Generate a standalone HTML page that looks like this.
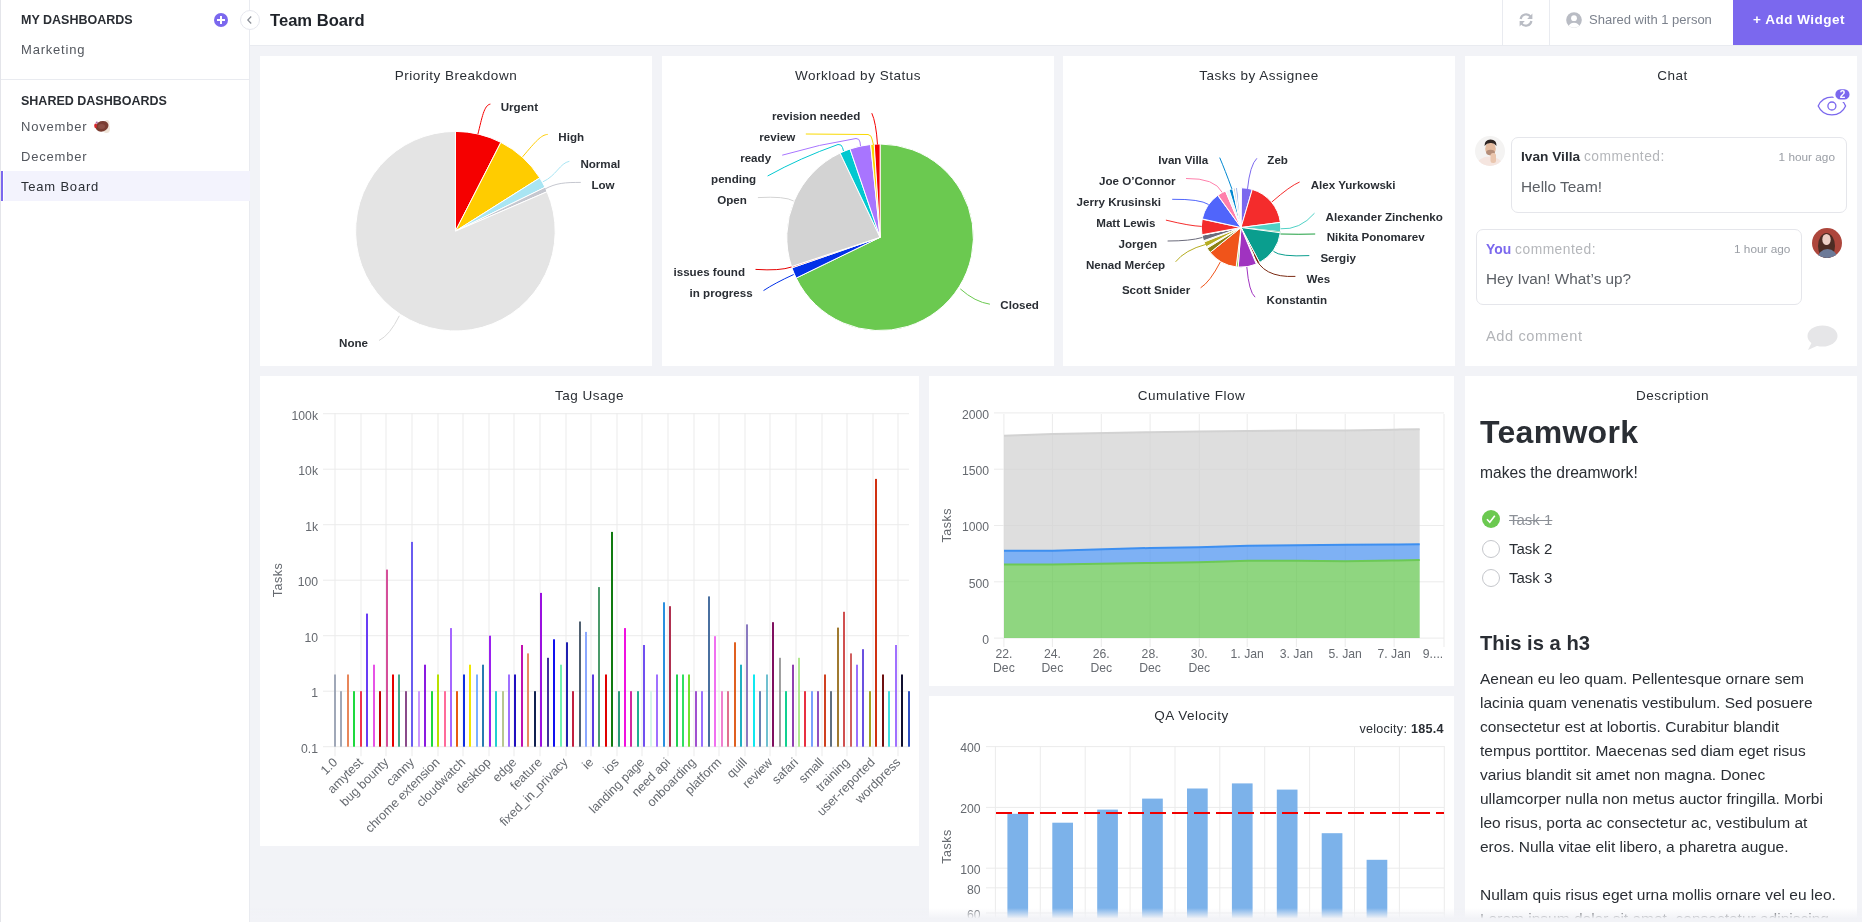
<!DOCTYPE html>
<html><head><meta charset="utf-8">
<style>
*{box-sizing:border-box;margin:0;padding:0}
html,body{width:1862px;height:922px;overflow:hidden}
body{background:#f2f3f7;font-family:"Liberation Sans",sans-serif;color:#2a2e34;position:relative}
.a{position:absolute;white-space:nowrap}
#side{position:absolute;left:0;top:0;width:250px;height:922px;background:#fff;border-left:1px solid #e4e5ea;border-right:1px solid #e9ebf0}
#hdr{position:absolute;left:250px;top:0;width:1612px;height:46px;background:#fff;border-bottom:1px solid #e9ebf0}
.card{position:absolute;background:#fff}
.ttl{position:absolute;left:0;right:0;text-align:center;font-size:13.5px;color:#2a2e34;letter-spacing:0.5px}
.sh{font-size:12.5px;font-weight:bold;color:#2a2e34;letter-spacing:0px}
.si{font-size:13px;color:#53575e;letter-spacing:0.8px}
svg text{font-family:"Liberation Sans",sans-serif}
</style></head>
<body>
<div id="wrap" style="position:absolute;left:0;top:0;width:1862px;height:922px;will-change:transform">
<!-- SIDEBAR -->
<div id="side">
  <div class="a sh" style="left:20px;top:13px">MY DASHBOARDS</div>
  <div class="a" style="left:213px;top:13px;width:14px;height:14px;border-radius:50%;background:#7b68ee"></div>
  <div class="a" style="left:216px;top:19px;width:8px;height:2px;background:#fff"></div>
  <div class="a" style="left:219px;top:16px;width:2px;height:8px;background:#fff"></div>
  <div class="a si" style="left:20px;top:42px">Marketing</div>
  <div class="a" style="left:0;top:79px;width:249px;height:1px;background:#e9ebf0"></div>
  <div class="a sh" style="left:20px;top:94px">SHARED DASHBOARDS</div>
  <div class="a si" style="left:20px;top:119px">November</div>
  <svg class="a" style="left:92px;top:118px" width="18" height="16" viewBox="0 0 18 16">
    <ellipse cx="13.5" cy="10.5" rx="3.5" ry="4.5" fill="#efe4d8"/>
    <ellipse cx="14" cy="5.5" rx="2.5" ry="3.5" fill="#efe4d8"/>
    <ellipse cx="9" cy="8.3" rx="6.6" ry="5.2" fill="#7a3c30" transform="rotate(-18 9 8.3)"/>
    <ellipse cx="8.5" cy="8.5" rx="3.5" ry="2.5" fill="#93554a" opacity="0.7"/>
    <ellipse cx="2.6" cy="7.8" rx="1.4" ry="2.4" fill="#d9262a"/>
    <circle cx="3.8" cy="4.6" r="1.1" fill="#b070a8"/>
  </svg>
  <div class="a si" style="left:20px;top:149px">December</div>
  <div class="a" style="left:3px;top:171px;width:246px;height:30px;background:#f3f3fd"></div>
  <div class="a" style="left:0px;top:171px;width:2px;height:30px;background:#7b68ee"></div>
  <div class="a si" style="left:20px;top:179px;color:#2a2e34">Team Board</div>
</div>
<!-- HEADER -->
<div id="hdr">
  <div class="a" style="left:20px;top:11px;font-size:16.6px;font-weight:bold;color:#1f2329">Team Board</div>
  <div class="a" style="left:1252px;top:0;width:1px;height:45px;background:#e9ebf0"></div>
  <div class="a" style="left:1299px;top:0;width:1px;height:45px;background:#e9ebf0"></div>
  <svg class="a" style="left:1315.8px;top:12px" width="16" height="16" viewBox="0 0 16 16"><defs><clipPath id="cpu"><circle cx="8" cy="8" r="7.8"/></clipPath></defs><circle cx="8" cy="8" r="7.8" fill="#b9bcc4"/><g clip-path="url(#cpu)"><circle cx="8" cy="6.2" r="2.9" fill="#fff"/><ellipse cx="8" cy="14.6" rx="5.4" ry="3.8" fill="#fff"/></g></svg>
  <svg class="a" style="left:1268px;top:12px" width="16" height="16" viewBox="0 0 16 16"><g fill="none" stroke="#b9bcc4" stroke-width="2.2"><path d="M2.6,7 A5.6,5.6 0 0 1 12.6,4.6"/><path d="M13.4,9 A5.6,5.6 0 0 1 3.4,11.4"/></g><path d="M14.4,1.6 L14.4,7 L9.2,7 Z" fill="#b9bcc4"/><path d="M1.6,14.4 L1.6,9 L6.8,9 Z" fill="#b9bcc4"/></svg>
  <div class="a" style="left:1339px;top:12px;font-size:13px;color:#7c828d">Shared with 1 person</div>
  <div class="a" style="left:1483px;top:0;width:129px;height:45px;background:#7b68ee"></div>
  <div class="a" style="left:1503px;top:12px;font-size:13.5px;font-weight:bold;color:#fff;letter-spacing:0.5px">+ Add Widget</div>
</div>
<!-- collapse btn -->
<div class="a" style="left:240px;top:10px;width:20px;height:20px;border-radius:50%;background:#fff;border:1px solid #e6e7ee"></div>
<svg class="a" style="left:240px;top:10px" width="20" height="20" viewBox="0 0 20 20"><path d="M11.2,6.5 L7.8,10 L11.2,13.5" fill="none" stroke="#8a8e96" stroke-width="1.2"/></svg>

<!-- ROW 1 CARDS -->
<div class="card" id="c1" style="left:260px;top:56px;width:392px;height:310px"><div class="ttl" style="top:12px">Priority Breakdown</div></div>
<div class="card" id="c2" style="left:662px;top:56px;width:392px;height:310px"><div class="ttl" style="top:12px">Workload by Status</div></div>
<div class="card" id="c3" style="left:1063px;top:56px;width:392px;height:310px"><div class="ttl" style="top:12px">Tasks by Assignee</div></div>
<div class="card" id="c4" style="left:1465px;top:56px;width:392px;height:310px"><div class="ttl" style="top:12px;padding-left:23px">Chat</div>
  <!-- eye icon -->
  <svg class="a" style="left:346px;top:28px" width="44" height="36" viewBox="0 0 44 36">
    <path d="M7.2,22 A15,15 0 0 1 34.6,22 A15,15 0 0 1 7.2,22 Z" fill="none" stroke="#7b68ee" stroke-width="1.3"/>
    <circle cx="20.9" cy="22" r="4" fill="none" stroke="#7b68ee" stroke-width="1.3"/>
    <rect x="23.1" y="4" width="16.7" height="12.8" rx="6.4" fill="#7b68ee" stroke="#fff" stroke-width="2.5"/>
    <text x="31.5" y="14.2" font-size="10" font-weight="bold" fill="#fff" text-anchor="middle">2</text>
  </svg>
  <!-- comment 1 -->
  <svg class="a" style="left:9.8px;top:80px" width="30" height="30" viewBox="0 0 30 30"><defs><clipPath id="cp1"><circle cx="15" cy="15" r="15"/></clipPath></defs>
    <g clip-path="url(#cp1)"><rect width="30" height="30" fill="#f4f3f2"/>
    <ellipse cx="14.5" cy="29" rx="12.5" ry="8.5" fill="#f5e5df"/>
    <ellipse cx="15.5" cy="12.8" rx="5.3" ry="6.6" fill="#e4bb9f"/>
    <ellipse cx="15.5" cy="16.5" rx="4.4" ry="2.8" fill="#8e6a5a" opacity="0.55"/>
    <rect x="15.5" y="17" width="5.5" height="10" rx="2.5" fill="#eac6ae"/>
    <path d="M9.5,10 Q9.5,3.5 15.5,3.5 Q21.8,3.5 21.5,10 Q19,6.5 15.5,7 Q12,6.8 9.5,10 Z" fill="#2e2522"/></g></svg>
  <div class="a" style="left:46px;top:80.5px;width:336px;height:76px;border:1px solid #e5e6eb;border-radius:7px"></div>
  <div class="a" style="left:56px;top:93px;font-size:13.7px;font-weight:bold;color:#2a2e34">Ivan Villa <span style="font-weight:normal;color:#b4b6ba;font-size:13.8px;letter-spacing:0.5px">commented:</span></div>
  <div class="a" style="right:22px;top:94px;font-size:11.8px;color:#9a9ea5">1 hour ago</div>
  <div class="a" style="left:56px;top:122px;font-size:15.4px;color:#5c6066">Hello Team!</div>
  <!-- comment 2 -->
  <div class="a" style="left:10.5px;top:172.5px;width:326px;height:76px;border:1px solid #e5e6eb;border-radius:7px"></div>
  <div class="a" style="left:21px;top:185px;font-size:13.9px;font-weight:bold;color:#7b68ee">You <span style="font-weight:normal;color:#b4b6ba;font-size:13.8px;letter-spacing:0.5px">commented:</span></div>
  <div class="a" style="left:269px;top:186px;font-size:11.8px;color:#9a9ea5">1 hour ago</div>
  <div class="a" style="left:21px;top:214px;font-size:15.3px;color:#5c6066">Hey Ivan! What&#8217;s up?</div>
  <svg class="a" style="left:347px;top:172px" width="30" height="30" viewBox="0 0 30 30"><defs><clipPath id="cp2"><circle cx="15" cy="15" r="15"/></clipPath></defs>
    <g clip-path="url(#cp2)"><rect width="30" height="30" fill="#ad463c"/>
    <ellipse cx="14.5" cy="18" rx="8.5" ry="13" fill="#4d2c24"/>
    <ellipse cx="15.5" cy="31" rx="10" ry="10" fill="#6c7a98"/>
    <ellipse cx="14.5" cy="11.5" rx="4.2" ry="5.6" fill="#eccfc6"/></g></svg>
  <!-- add comment -->
  <div class="a" style="left:21px;top:272px;font-size:14.6px;letter-spacing:0.6px;color:#b2b4b8">Add comment</div>
  <svg class="a" style="left:341px;top:267.5px" width="32" height="28" viewBox="0 0 32 28">
    <ellipse cx="16.5" cy="12" rx="15" ry="10.5" fill="#e6e6e8"/>
    <path d="M6,18 L2,26 L13,21 Z" fill="#e6e6e8"/>
  </svg>
</div>

<!-- ROW 2 -->
<div class="card" id="c5" style="left:260px;top:376px;width:659px;height:470px"><div class="ttl" style="top:12px">Tag Usage</div></div>
<div class="card" id="c6" style="left:929px;top:376px;width:525px;height:310px"><div class="ttl" style="top:12px">Cumulative Flow</div></div>
<div class="card" id="c7" style="left:929px;top:696px;width:525px;height:300px"><div class="ttl" style="top:12px">QA Velocity</div></div>
<div class="card" id="c8" style="left:1465px;top:376px;width:392px;height:600px"><div class="ttl" style="top:12px;padding-left:23px">Description</div>
  <div class="a" style="left:15px;top:37.5px;font-size:32px;font-weight:bold;color:#2a2e34;letter-spacing:0.3px">Teamwork</div>
  <div class="a" style="left:15px;top:87.5px;font-size:15.6px;color:#2a2e34">makes the dreamwork!</div>
  <div class="a" style="left:16.5px;top:134px;width:18px;height:18px;border-radius:50%;background:#6bc950"></div>
  <svg class="a" style="left:16.5px;top:134px" width="18" height="18" viewBox="0 0 18 18"><path d="M5,9.3 L7.8,12.2 L12.8,5.8" fill="none" stroke="#fff" stroke-width="1.6"/></svg>
  <div class="a" style="left:44px;top:135px;font-size:15px;color:#8c9097;text-decoration:line-through">Task 1</div>
  <div class="a" style="left:16.5px;top:164px;width:18px;height:18px;border-radius:50%;border:1px solid #c4c6cb"></div>
  <div class="a" style="left:44px;top:164px;font-size:15px;color:#2a2e34">Task 2</div>
  <div class="a" style="left:16.5px;top:193px;width:18px;height:18px;border-radius:50%;border:1px solid #c4c6cb"></div>
  <div class="a" style="left:44px;top:193px;font-size:15px;color:#2a2e34">Task 3</div>
  <div class="a" style="left:15px;top:256px;font-size:20.2px;font-weight:bold;color:#2a2e34">This is a h3</div>
  <div class="a" id="para" style="left:15px;top:291px;font-size:15.5px;line-height:24px;color:#2a2e34">Aenean eu leo quam. Pellentesque ornare sem<br>lacinia quam venenatis vestibulum. Sed posuere<br>consectetur est at lobortis. Curabitur blandit<br>tempus porttitor. Maecenas sed diam eget risus<br>varius blandit sit amet non magna. Donec<br>ullamcorper nulla non metus auctor fringilla. Morbi<br>leo risus, porta ac consectetur ac, vestibulum at<br>eros. Nulla vitae elit libero, a pharetra augue.<br><br>Nullam quis risus eget urna mollis ornare vel eu leo.<br>Lorem ipsum dolor sit amet, consectetur adipiscing</div>
</div>

<svg id="charts" width="1862" height="922" viewBox="0 0 1862 922" style="position:absolute;left:0;top:0">
<path d="M455.40,231.20 L455.40,131.40 A99.8,99.8 0 0 1 500.86,142.36 Z" fill="#f50000" stroke="#fff" stroke-width="1" stroke-linejoin="round"/>
<path d="M455.40,231.20 L500.86,142.36 A99.8,99.8 0 0 1 539.76,177.87 Z" fill="#ffcc00" stroke="#fff" stroke-width="1" stroke-linejoin="round"/>
<path d="M455.40,231.20 L539.76,177.87 A99.8,99.8 0 0 1 545.02,187.29 Z" fill="#a9e5f3" stroke="#fff" stroke-width="1" stroke-linejoin="round"/>
<path d="M455.40,231.20 L545.02,187.29 A99.8,99.8 0 0 1 547.06,191.72 Z" fill="#c5c7cf" stroke="#fff" stroke-width="1" stroke-linejoin="round"/>
<path d="M455.40,231.20 L547.06,191.72 A99.8,99.8 0 1 1 455.40,131.40 Z" fill="#e4e4e4" stroke="#fff" stroke-width="1" stroke-linejoin="round"/>
<path d="M477.9,134.1 C482.0,118.0 484.0,105.0 490.4,104.1" fill="none" stroke="#f50000" stroke-width="1"/>
<text x="500.7" y="110.9" font-size="11.6" font-weight="bold" fill="#2a2e34" text-anchor="start" >Urgent</text>
<path d="M522.6,156.8 C536.0,141.0 541.0,135.0 547.7,134.4" fill="none" stroke="#ffcc00" stroke-width="1"/>
<text x="558.3" y="141.1" font-size="11.6" font-weight="bold" fill="#2a2e34" text-anchor="start" >High</text>
<path d="M542.9,181.8 C556.0,176.0 560.0,163.0 569.4,161.3" fill="none" stroke="#a9e5f3" stroke-width="1"/>
<text x="580.4" y="168.1" font-size="11.6" font-weight="bold" fill="#2a2e34" text-anchor="start" >Normal</text>
<path d="M545.0,189.0 C556.0,183.0 565.0,182.4 580.8,182.4" fill="none" stroke="#c5c7cf" stroke-width="1"/>
<text x="591.4" y="188.7" font-size="11.6" font-weight="bold" fill="#2a2e34" text-anchor="start" >Low</text>
<path d="M399.3,315.8 Q390.0,335.0 379.0,340.5" fill="none" stroke="#d8d8d8" stroke-width="1"/>
<text x="368.0" y="346.9" font-size="11.6" font-weight="bold" fill="#2a2e34" text-anchor="end" >None</text>
<path d="M880.10,237.30 L880.10,144.00 A93.3,93.3 0 1 1 796.17,278.05 Z" fill="#6bc950" stroke="#fff" stroke-width="1" stroke-linejoin="round"/>
<path d="M880.10,237.30 L796.17,278.05 A93.3,93.3 0 0 1 791.94,267.83 Z" fill="#0231e8" stroke="#fff" stroke-width="1" stroke-linejoin="round"/>
<path d="M880.10,237.30 L791.94,267.83 A93.3,93.3 0 0 1 791.52,266.60 Z" fill="#e50000" stroke="#fff" stroke-width="1" stroke-linejoin="round"/>
<path d="M880.10,237.30 L791.52,266.60 A93.3,93.3 0 0 1 840.08,153.02 Z" fill="#d3d3d3" stroke="#fff" stroke-width="1" stroke-linejoin="round"/>
<path d="M880.10,237.30 L840.08,153.02 A93.3,93.3 0 0 1 850.03,148.98 Z" fill="#02c8d0" stroke="#fff" stroke-width="1" stroke-linejoin="round"/>
<path d="M880.10,237.30 L850.03,148.98 A93.3,93.3 0 0 1 870.67,144.48 Z" fill="#a875ff" stroke="#fff" stroke-width="1" stroke-linejoin="round"/>
<path d="M880.10,237.30 L870.67,144.48 A93.3,93.3 0 0 1 874.24,144.18 Z" fill="#f9d900" stroke="#fff" stroke-width="1" stroke-linejoin="round"/>
<path d="M880.10,237.30 L874.24,144.18 A93.3,93.3 0 0 1 880.10,144.00 Z" fill="#f40000" stroke="#fff" stroke-width="1" stroke-linejoin="round"/>
<path d="M877.5,144.5 Q876.0,122.0 871.8,113.2" fill="none" stroke="#f40000" stroke-width="1"/>
<text x="860.3" y="119.8" font-size="11.6" font-weight="bold" fill="#2a2e34" text-anchor="end" >revision needed</text>
<path d="M805.8,134 L868,134.5 Q871.5,135 872,139 L873.5,145" fill="none" stroke="#f9d900" stroke-width="1"/>
<text x="795.4" y="141.0" font-size="11.6" font-weight="bold" fill="#2a2e34" text-anchor="end" >review</text>
<path d="M782.2,155.2 Q820,144 856,138.5 Q859.5,138.5 860,142 L860.5,146" fill="none" stroke="#a875ff" stroke-width="1"/>
<text x="771.1" y="162.1" font-size="11.6" font-weight="bold" fill="#2a2e34" text-anchor="end" >ready</text>
<path d="M767.6,176 Q800,158 838,144.5 Q841.5,144 842.5,147.5 L843.5,151" fill="none" stroke="#02c8d0" stroke-width="1"/>
<text x="756.2" y="183.0" font-size="11.6" font-weight="bold" fill="#2a2e34" text-anchor="end" >pending</text>
<path d="M757.9,197.6 Q785.0,196.0 793.7,201.0" fill="none" stroke="#d3d3d3" stroke-width="1"/>
<text x="746.8" y="204.1" font-size="11.6" font-weight="bold" fill="#2a2e34" text-anchor="end" >Open</text>
<path d="M755.5,269.4 Q780.0,271.0 791.5,267.0" fill="none" stroke="#e50000" stroke-width="1"/>
<text x="745.0" y="276.0" font-size="11.6" font-weight="bold" fill="#2a2e34" text-anchor="end" >issues found</text>
<path d="M763.5,290.6 Q775.0,283.0 793.7,274.5" fill="none" stroke="#0231e8" stroke-width="1"/>
<text x="752.7" y="296.7" font-size="11.6" font-weight="bold" fill="#2a2e34" text-anchor="end" >in progress</text>
<path d="M960.3,288.9 Q975.0,302.0 989.9,304.2" fill="none" stroke="#6bc950" stroke-width="1"/>
<text x="1000.3" y="309.0" font-size="11.6" font-weight="bold" fill="#2a2e34" text-anchor="start" >Closed</text>
<path d="M1241.00,227.50 L1241.42,187.80 A39.7,39.7 0 0 1 1252.28,189.43 Z" fill="#7b68ee" stroke="#fff" stroke-width="1" stroke-linejoin="round"/>
<path d="M1241.00,227.50 L1252.28,189.43 A39.7,39.7 0 0 1 1280.37,222.39 Z" fill="#f42c2c" stroke="#fff" stroke-width="1" stroke-linejoin="round"/>
<path d="M1241.00,227.50 L1280.37,222.39 A39.7,39.7 0 0 1 1280.46,231.86 Z" fill="#4fd1c5" stroke="#fff" stroke-width="1" stroke-linejoin="round"/>
<path d="M1241.00,227.50 L1280.46,231.86 A39.7,39.7 0 0 1 1280.35,232.75 Z" fill="#1b9e3e" stroke="#fff" stroke-width="0.3" stroke-linejoin="round"/>
<path d="M1241.00,227.50 L1280.35,232.75 A39.7,39.7 0 0 1 1259.64,262.55 Z" fill="#0a9e8e" stroke="#fff" stroke-width="1" stroke-linejoin="round"/>
<path d="M1241.00,227.50 L1259.64,262.55 A39.7,39.7 0 0 1 1257.46,263.63 Z" fill="#7a2a12" stroke="#fff" stroke-width="1" stroke-linejoin="round"/>
<path d="M1241.00,227.50 L1257.46,263.63 A39.7,39.7 0 0 1 1256.32,264.12 Z" fill="#ffffff" stroke="#fff" stroke-width="1" stroke-linejoin="round"/>
<path d="M1241.00,227.50 L1256.32,264.12 A39.7,39.7 0 0 1 1238.23,267.10 Z" fill="#a033c0" stroke="#fff" stroke-width="1" stroke-linejoin="round"/>
<path d="M1241.00,227.50 L1238.23,267.10 A39.7,39.7 0 0 1 1236.16,266.90 Z" fill="#8bc34a" stroke="#fff" stroke-width="1" stroke-linejoin="round"/>
<path d="M1241.00,227.50 L1236.16,266.90 A39.7,39.7 0 0 1 1210.15,252.48 Z" fill="#f0541a" stroke="#fff" stroke-width="1" stroke-linejoin="round"/>
<path d="M1241.00,227.50 L1210.15,252.48 A39.7,39.7 0 0 1 1207.15,248.24 Z" fill="#8a8010" stroke="#fff" stroke-width="1" stroke-linejoin="round"/>
<path d="M1241.00,227.50 L1207.15,248.24 A39.7,39.7 0 0 1 1206.28,246.75 Z" fill="#f6f6ee" stroke="#fff" stroke-width="0.3" stroke-linejoin="round"/>
<path d="M1241.00,227.50 L1206.28,246.75 A39.7,39.7 0 0 1 1204.06,242.05 Z" fill="#b5ac20" stroke="#fff" stroke-width="1" stroke-linejoin="round"/>
<path d="M1241.00,227.50 L1204.06,242.05 A39.7,39.7 0 0 1 1203.58,240.75 Z" fill="#f2f2e4" stroke="#fff" stroke-width="0.3" stroke-linejoin="round"/>
<path d="M1241.00,227.50 L1203.58,240.75 A39.7,39.7 0 0 1 1202.06,235.21 Z" fill="#6b6b7b" stroke="#fff" stroke-width="1" stroke-linejoin="round"/>
<path d="M1241.00,227.50 L1202.06,235.21 A39.7,39.7 0 0 1 1201.96,234.73 Z" fill="#ffffff" stroke="#fff" stroke-width="1" stroke-linejoin="round"/>
<path d="M1241.00,227.50 L1201.96,234.73 A39.7,39.7 0 0 1 1202.17,219.25 Z" fill="#f42c2c" stroke="#fff" stroke-width="1" stroke-linejoin="round"/>
<path d="M1241.00,227.50 L1202.24,218.91 A39.7,39.7 0 0 1 1217.66,195.38 Z" fill="#5065fb" stroke="#fff" stroke-width="1" stroke-linejoin="round"/>
<path d="M1241.00,227.50 L1217.95,195.18 A39.7,39.7 0 0 1 1225.49,190.96 Z" fill="#ff7fab" stroke="#fff" stroke-width="1" stroke-linejoin="round"/>
<path d="M1241.00,227.50 L1225.49,190.96 A39.7,39.7 0 0 1 1229.06,189.64 Z" fill="#eef6fb" stroke="#fff" stroke-width="1" stroke-linejoin="round"/>
<path d="M1241.00,227.50 L1229.06,189.64 A39.7,39.7 0 0 1 1232.75,188.67 Z" fill="#0288d1" stroke="#fff" stroke-width="1" stroke-linejoin="round"/>
<path d="M1241.00,227.50 L1232.75,188.67 A39.7,39.7 0 0 1 1233.77,188.46 Z" fill="#ffffff" stroke="#fff" stroke-width="1" stroke-linejoin="round"/>
<path d="M1241.00,227.50 L1233.77,188.46 A39.7,39.7 0 0 1 1235.20,188.23 Z" fill="#c8c8c8" stroke="#fff" stroke-width="0.3" stroke-linejoin="round"/>
<path d="M1241.00,227.50 L1235.20,188.23 A39.7,39.7 0 0 1 1236.16,188.10 Z" fill="#ffffff" stroke="#fff" stroke-width="1" stroke-linejoin="round"/>
<path d="M1241.00,227.50 L1236.16,188.10 A39.7,39.7 0 0 1 1237.54,187.95 Z" fill="#5b7fe0" stroke="#fff" stroke-width="0.3" stroke-linejoin="round"/>
<path d="M1241.00,227.50 L1237.54,187.95 A39.7,39.7 0 0 1 1241.00,187.80 Z" fill="#ffffff" stroke="#fff" stroke-width="1" stroke-linejoin="round"/>
<path d="M1231.9,188.9 Q1225.0,170.0 1219.7,157.6" fill="none" stroke="#0288d1" stroke-width="1"/>
<text x="1208.3" y="164.2" font-size="11.6" font-weight="bold" fill="#2a2e34" text-anchor="end" >Ivan Villa</text>
<path d="M1247.5,188.9 Q1250.0,165.0 1256.9,158.3" fill="none" stroke="#7b68ee" stroke-width="1"/>
<text x="1267.3" y="164.2" font-size="11.6" font-weight="bold" fill="#2a2e34" text-anchor="start" >Zeb</text>
<path d="M1222.2,192.4 Q1215.0,178.0 1186.0,178.5" fill="none" stroke="#ff7fab" stroke-width="1"/>
<text x="1175.6" y="185.1" font-size="11.6" font-weight="bold" fill="#2a2e34" text-anchor="end" >Joe O&#8217;Connor</text>
<path d="M1271.8,202.0 Q1290.0,186.0 1299.6,182.0" fill="none" stroke="#f42c2c" stroke-width="1"/>
<text x="1310.7" y="188.9" font-size="11.6" font-weight="bold" fill="#2a2e34" text-anchor="start" >Alex Yurkowski</text>
<path d="M1208.6,204.5 Q1200.0,199.0 1172.2,199.3" fill="none" stroke="#5065fb" stroke-width="1"/>
<text x="1161.0" y="205.9" font-size="11.6" font-weight="bold" fill="#2a2e34" text-anchor="end" >Jerry Krusinski</text>
<path d="M1280.5,228.8 Q1300.0,230.0 1314.5,213.2" fill="none" stroke="#4fd1c5" stroke-width="1"/>
<text x="1325.6" y="220.5" font-size="11.6" font-weight="bold" fill="#2a2e34" text-anchor="start" >Alexander Zinchenko</text>
<path d="M1201.7,226.4 Q1190.0,226.0 1165.9,220.1" fill="none" stroke="#f42c2c" stroke-width="1"/>
<text x="1155.5" y="226.7" font-size="11.6" font-weight="bold" fill="#2a2e34" text-anchor="end" >Matt Lewis</text>
<path d="M1280.5,234.0 Q1300.0,234.5 1315.2,234.0" fill="none" stroke="#1b9e3e" stroke-width="1"/>
<text x="1326.7" y="241.3" font-size="11.6" font-weight="bold" fill="#2a2e34" text-anchor="start" >Nikita Ponomarev</text>
<path d="M1202.4,237.5 Q1190.0,241.0 1167.6,241.0" fill="none" stroke="#6b6b7b" stroke-width="1"/>
<text x="1157.2" y="248.2" font-size="11.6" font-weight="bold" fill="#2a2e34" text-anchor="end" >Jorgen</text>
<path d="M1273.5,251.4 Q1280.0,257.0 1309.3,255.6" fill="none" stroke="#0a9e8e" stroke-width="1"/>
<text x="1320.4" y="262.1" font-size="11.6" font-weight="bold" fill="#2a2e34" text-anchor="start" >Sergiy</text>
<path d="M1205.8,244.4 Q1185.0,250.0 1175.6,261.8" fill="none" stroke="#b5ac20" stroke-width="1"/>
<text x="1165.2" y="269.1" font-size="11.6" font-weight="bold" fill="#2a2e34" text-anchor="end" >Nenad Mer&#263;ep</text>
<path d="M1254.4,254.9 Q1262.0,278.0 1295.4,276.4" fill="none" stroke="#7a2a12" stroke-width="1"/>
<text x="1306.5" y="283.0" font-size="11.6" font-weight="bold" fill="#2a2e34" text-anchor="start" >Wes</text>
<path d="M1220.4,261.8 Q1210.0,282.0 1200.6,287.8" fill="none" stroke="#f0541a" stroke-width="1"/>
<text x="1190.2" y="294.1" font-size="11.6" font-weight="bold" fill="#2a2e34" text-anchor="end" >Scott Snider</text>
<path d="M1246.8,267.0 Q1249.0,292.0 1255.1,297.2" fill="none" stroke="#a033c0" stroke-width="1"/>
<text x="1266.6" y="303.8" font-size="11.6" font-weight="bold" fill="#2a2e34" text-anchor="start" >Konstantin</text>
<rect x="323" y="746.2" width="586" height="1" fill="#ececec"/>
<rect x="323" y="690.7" width="586" height="1" fill="#ececec"/>
<rect x="323" y="635.2" width="586" height="1" fill="#ececec"/>
<rect x="323" y="579.7" width="586" height="1" fill="#ececec"/>
<rect x="323" y="524.2" width="586" height="1" fill="#ececec"/>
<rect x="323" y="468.7" width="586" height="1" fill="#ececec"/>
<rect x="323" y="413.2" width="586" height="1" fill="#ececec"/>
<rect x="334.5" y="413.2" width="1" height="343" fill="#ececec"/>
<rect x="360.5" y="413.2" width="1" height="343" fill="#ececec"/>
<rect x="385.5" y="413.2" width="1" height="343" fill="#ececec"/>
<rect x="411.5" y="413.2" width="1" height="343" fill="#ececec"/>
<rect x="437.5" y="413.2" width="1" height="343" fill="#ececec"/>
<rect x="462.5" y="413.2" width="1" height="343" fill="#ececec"/>
<rect x="488.5" y="413.2" width="1" height="343" fill="#ececec"/>
<rect x="513.5" y="413.2" width="1" height="343" fill="#ececec"/>
<rect x="539.5" y="413.2" width="1" height="343" fill="#ececec"/>
<rect x="565.5" y="413.2" width="1" height="343" fill="#ececec"/>
<rect x="590.5" y="413.2" width="1" height="343" fill="#ececec"/>
<rect x="616.5" y="413.2" width="1" height="343" fill="#ececec"/>
<rect x="641.5" y="413.2" width="1" height="343" fill="#ececec"/>
<rect x="667.5" y="413.2" width="1" height="343" fill="#ececec"/>
<rect x="693.5" y="413.2" width="1" height="343" fill="#ececec"/>
<rect x="718.5" y="413.2" width="1" height="343" fill="#ececec"/>
<rect x="744.5" y="413.2" width="1" height="343" fill="#ececec"/>
<rect x="769.5" y="413.2" width="1" height="343" fill="#ececec"/>
<rect x="795.5" y="413.2" width="1" height="343" fill="#ececec"/>
<rect x="821.5" y="413.2" width="1" height="343" fill="#ececec"/>
<rect x="846.5" y="413.2" width="1" height="343" fill="#ececec"/>
<rect x="872.5" y="413.2" width="1" height="343" fill="#ececec"/>
<rect x="897.5" y="413.2" width="1" height="343" fill="#ececec"/>
<text x="318.0" y="752.5" font-size="12.2" font-weight="normal" fill="#666a70" text-anchor="end" >0.1</text>
<text x="318.0" y="697.0" font-size="12.2" font-weight="normal" fill="#666a70" text-anchor="end" >1</text>
<text x="318.0" y="641.5" font-size="12.2" font-weight="normal" fill="#666a70" text-anchor="end" >10</text>
<text x="318.0" y="586.0" font-size="12.2" font-weight="normal" fill="#666a70" text-anchor="end" >100</text>
<text x="318.0" y="530.5" font-size="12.2" font-weight="normal" fill="#666a70" text-anchor="end" >1k</text>
<text x="318.0" y="475.0" font-size="12.2" font-weight="normal" fill="#666a70" text-anchor="end" >10k</text>
<text x="318.0" y="419.5" font-size="12.2" font-weight="normal" fill="#666a70" text-anchor="end" >100k</text>
<text transform="translate(282,580) rotate(-90)" font-size="12.5" fill="#666a70" text-anchor="middle" letter-spacing="0.5">Tasks</text>
<rect x="334" y="674.5" width="2" height="72.2" fill="#a0a8b8"/>
<rect x="340" y="691.2" width="2" height="55.5" fill="#a0a8b8"/>
<rect x="347" y="674.5" width="2" height="72.2" fill="#e8865a"/>
<rect x="353" y="691.2" width="2" height="55.5" fill="#1ed93e"/>
<rect x="360" y="691.2" width="2" height="55.5" fill="#f0344e"/>
<rect x="366" y="613.6" width="2" height="133.1" fill="#6a3cf5"/>
<rect x="373" y="664.7" width="2" height="82.0" fill="#e653e6"/>
<rect x="379" y="691.2" width="2" height="55.5" fill="#c00000"/>
<rect x="386" y="569.6" width="2" height="177.1" fill="#d54f9a"/>
<rect x="392" y="674.5" width="2" height="72.2" fill="#e80000"/>
<rect x="398" y="674.5" width="2" height="72.2" fill="#45a88a"/>
<rect x="405" y="691.2" width="2" height="55.5" fill="#8a4a8a"/>
<rect x="411" y="541.9" width="2" height="204.8" fill="#6a5cf0"/>
<rect x="418" y="691.2" width="2" height="55.5" fill="#cc99ff"/>
<rect x="424" y="664.7" width="2" height="82.0" fill="#8a1ae0"/>
<rect x="431" y="691.2" width="2" height="55.5" fill="#1ed93e"/>
<rect x="437" y="674.5" width="2" height="72.2" fill="#b8e000"/>
<rect x="444" y="691.2" width="2" height="55.5" fill="#ff6b9a"/>
<rect x="450" y="628.1" width="2" height="118.6" fill="#a566ff"/>
<rect x="456" y="691.2" width="2" height="55.5" fill="#e85a10"/>
<rect x="463" y="674.5" width="2" height="72.2" fill="#1030e0"/>
<rect x="469" y="664.7" width="2" height="82.0" fill="#f0e800"/>
<rect x="476" y="674.5" width="2" height="72.2" fill="#7ab0ff"/>
<rect x="482" y="664.7" width="2" height="82.0" fill="#2a7ab0"/>
<rect x="489" y="635.7" width="2" height="111.0" fill="#9a20f0"/>
<rect x="495" y="691.2" width="2" height="55.5" fill="#20d0d0"/>
<rect x="502" y="691.2" width="2" height="55.5" fill="#b8c890"/>
<rect x="508" y="674.5" width="2" height="72.2" fill="#a070ff"/>
<rect x="514" y="674.5" width="2" height="72.2" fill="#2010c0"/>
<rect x="521" y="645.0" width="2" height="101.7" fill="#c010b0"/>
<rect x="527" y="653.4" width="2" height="93.3" fill="#e88a60"/>
<rect x="534" y="691.2" width="2" height="55.5" fill="#102050"/>
<rect x="540" y="592.9" width="2" height="153.8" fill="#9a10e0"/>
<rect x="547" y="657.8" width="2" height="88.9" fill="#40309a"/>
<rect x="553" y="639.3" width="2" height="107.4" fill="#1010f0"/>
<rect x="560" y="664.7" width="2" height="82.0" fill="#70f0b0"/>
<rect x="566" y="642.3" width="2" height="104.4" fill="#2020b0"/>
<rect x="572" y="691.2" width="2" height="55.5" fill="#c02040"/>
<rect x="579" y="621.5" width="2" height="125.2" fill="#506070"/>
<rect x="585" y="631.9" width="2" height="114.8" fill="#8aa8ff"/>
<rect x="592" y="674.5" width="2" height="72.2" fill="#5a3ae0"/>
<rect x="598" y="587.1" width="2" height="159.6" fill="#4a9a6a"/>
<rect x="605" y="674.5" width="2" height="72.2" fill="#e00000"/>
<rect x="611" y="531.9" width="2" height="214.8" fill="#107a10"/>
<rect x="618" y="691.2" width="2" height="55.5" fill="#2a9a7a"/>
<rect x="624" y="628.1" width="2" height="118.6" fill="#f010e0"/>
<rect x="630" y="691.2" width="2" height="55.5" fill="#d02aa0"/>
<rect x="637" y="691.2" width="2" height="55.5" fill="#20b090"/>
<rect x="643" y="645.0" width="2" height="101.7" fill="#7050f0"/>
<rect x="650" y="691.2" width="2" height="55.5" fill="#d8f5ea"/>
<rect x="656" y="674.5" width="2" height="72.2" fill="#a070ff"/>
<rect x="663" y="602.3" width="2" height="144.4" fill="#2a90e0"/>
<rect x="669" y="606.2" width="2" height="140.5" fill="#b03050"/>
<rect x="676" y="674.5" width="2" height="72.2" fill="#20d050"/>
<rect x="682" y="674.5" width="2" height="72.2" fill="#30e060"/>
<rect x="688" y="674.5" width="2" height="72.2" fill="#70e030"/>
<rect x="695" y="691.2" width="2" height="55.5" fill="#a050d0"/>
<rect x="701" y="691.2" width="2" height="55.5" fill="#9a70ff"/>
<rect x="708" y="596.4" width="2" height="150.3" fill="#4a70a0"/>
<rect x="714" y="636.2" width="2" height="110.5" fill="#f070f0"/>
<rect x="721" y="691.2" width="2" height="55.5" fill="#f080d0"/>
<rect x="727" y="691.2" width="2" height="55.5" fill="#e07090"/>
<rect x="734" y="642.3" width="2" height="104.4" fill="#e06020"/>
<rect x="740" y="664.7" width="2" height="82.0" fill="#20b0c0"/>
<rect x="746" y="624.4" width="2" height="122.3" fill="#8a7ac0"/>
<rect x="753" y="674.5" width="2" height="72.2" fill="#10e8f0"/>
<rect x="759" y="691.2" width="2" height="55.5" fill="#6a80b0"/>
<rect x="766" y="674.5" width="2" height="72.2" fill="#70c0d0"/>
<rect x="772" y="622.2" width="2" height="124.5" fill="#801060"/>
<rect x="779" y="657.8" width="2" height="88.9" fill="#a0a0a0"/>
<rect x="785" y="691.2" width="2" height="55.5" fill="#10d090"/>
<rect x="792" y="664.7" width="2" height="82.0" fill="#9040b0"/>
<rect x="798" y="657.8" width="2" height="88.9" fill="#b0e890"/>
<rect x="804" y="691.2" width="2" height="55.5" fill="#e83040"/>
<rect x="811" y="691.2" width="2" height="55.5" fill="#7aa0ff"/>
<rect x="817" y="691.2" width="2" height="55.5" fill="#9050c0"/>
<rect x="824" y="674.5" width="2" height="72.2" fill="#d04020"/>
<rect x="830" y="691.2" width="2" height="55.5" fill="#607080"/>
<rect x="837" y="627.6" width="2" height="119.1" fill="#a07a30"/>
<rect x="843" y="611.8" width="2" height="134.9" fill="#d05050"/>
<rect x="850" y="653.4" width="2" height="93.3" fill="#d06060"/>
<rect x="856" y="664.7" width="2" height="82.0" fill="#9a70ff"/>
<rect x="862" y="649.2" width="2" height="97.5" fill="#6a50e0"/>
<rect x="869" y="691.2" width="2" height="55.5" fill="#a0a020"/>
<rect x="875" y="478.9" width="2" height="267.8" fill="#d03010"/>
<rect x="882" y="674.5" width="2" height="72.2" fill="#701010"/>
<rect x="888" y="691.2" width="2" height="55.5" fill="#40e0e0"/>
<rect x="895" y="645.0" width="2" height="101.7" fill="#a070ff"/>
<rect x="901" y="674.5" width="2" height="72.2" fill="#101030"/>
<rect x="908" y="691.2" width="2" height="55.5" fill="#3050c0"/>
<text transform="translate(338.1,763) rotate(-45)" font-size="12.6" fill="#666a70" text-anchor="end">1.0</text>
<text transform="translate(363.7,763) rotate(-45)" font-size="12.6" fill="#666a70" text-anchor="end">amytest</text>
<text transform="translate(389.3,763) rotate(-45)" font-size="12.6" fill="#666a70" text-anchor="end">bug bounty</text>
<text transform="translate(414.9,763) rotate(-45)" font-size="12.6" fill="#666a70" text-anchor="end">canny</text>
<text transform="translate(440.5,763) rotate(-45)" font-size="12.6" fill="#666a70" text-anchor="end">chrome extension</text>
<text transform="translate(466.1,763) rotate(-45)" font-size="12.6" fill="#666a70" text-anchor="end">cloudwatch</text>
<text transform="translate(491.7,763) rotate(-45)" font-size="12.6" fill="#666a70" text-anchor="end">desktop</text>
<text transform="translate(517.3,763) rotate(-45)" font-size="12.6" fill="#666a70" text-anchor="end">edge</text>
<text transform="translate(542.9,763) rotate(-45)" font-size="12.6" fill="#666a70" text-anchor="end">feature</text>
<text transform="translate(568.5,763) rotate(-45)" font-size="12.6" fill="#666a70" text-anchor="end">fixed_in_privacy</text>
<text transform="translate(594.1,763) rotate(-45)" font-size="12.6" fill="#666a70" text-anchor="end">ie</text>
<text transform="translate(619.7,763) rotate(-45)" font-size="12.6" fill="#666a70" text-anchor="end">ios</text>
<text transform="translate(645.3,763) rotate(-45)" font-size="12.6" fill="#666a70" text-anchor="end">landing page</text>
<text transform="translate(670.9,763) rotate(-45)" font-size="12.6" fill="#666a70" text-anchor="end">need api</text>
<text transform="translate(696.5,763) rotate(-45)" font-size="12.6" fill="#666a70" text-anchor="end">onboarding</text>
<text transform="translate(722.1,763) rotate(-45)" font-size="12.6" fill="#666a70" text-anchor="end">platform</text>
<text transform="translate(747.7,763) rotate(-45)" font-size="12.6" fill="#666a70" text-anchor="end">quill</text>
<text transform="translate(773.3,763) rotate(-45)" font-size="12.6" fill="#666a70" text-anchor="end">review</text>
<text transform="translate(798.9,763) rotate(-45)" font-size="12.6" fill="#666a70" text-anchor="end">safari</text>
<text transform="translate(824.5,763) rotate(-45)" font-size="12.6" fill="#666a70" text-anchor="end">small</text>
<text transform="translate(850.1,763) rotate(-45)" font-size="12.6" fill="#666a70" text-anchor="end">training</text>
<text transform="translate(875.7,763) rotate(-45)" font-size="12.6" fill="#666a70" text-anchor="end">user-reported</text>
<text transform="translate(901.3,763) rotate(-45)" font-size="12.6" fill="#666a70" text-anchor="end">wordpress</text>
<rect x="994" y="637.6" width="450" height="1" fill="#ececec"/>
<text x="989.0" y="643.9" font-size="12.2" font-weight="normal" fill="#666a70" text-anchor="end" >0</text>
<rect x="994" y="581.3" width="450" height="1" fill="#ececec"/>
<text x="989.0" y="587.6" font-size="12.2" font-weight="normal" fill="#666a70" text-anchor="end" >500</text>
<rect x="994" y="525.0" width="450" height="1" fill="#ececec"/>
<text x="989.0" y="531.3" font-size="12.2" font-weight="normal" fill="#666a70" text-anchor="end" >1000</text>
<rect x="994" y="468.7" width="450" height="1" fill="#ececec"/>
<text x="989.0" y="475.0" font-size="12.2" font-weight="normal" fill="#666a70" text-anchor="end" >1500</text>
<rect x="994" y="412.4" width="450" height="1" fill="#ececec"/>
<text x="989.0" y="418.7" font-size="12.2" font-weight="normal" fill="#666a70" text-anchor="end" >2000</text>
<rect x="1003.4" y="414" width="1" height="233" fill="#ececec"/>
<rect x="1051.9" y="414" width="1" height="233" fill="#ececec"/>
<rect x="1100.8" y="414" width="1" height="233" fill="#ececec"/>
<rect x="1149.6" y="414" width="1" height="233" fill="#ececec"/>
<rect x="1198.8" y="414" width="1" height="233" fill="#ececec"/>
<rect x="1246.7" y="414" width="1" height="233" fill="#ececec"/>
<rect x="1295.9" y="414" width="1" height="233" fill="#ececec"/>
<rect x="1344.7" y="414" width="1" height="233" fill="#ececec"/>
<rect x="1393.6" y="414" width="1" height="233" fill="#ececec"/>
<rect x="1443.5" y="414" width="1" height="233" fill="#ececec"/>
<path d="M1004.00,435.70 L1053.00,433.90 L1150.00,432.20 L1198.60,431.50 L1248.00,431.10 L1297.00,430.60 L1346.00,430.40 L1392.60,429.70 L1419.70,429.20 L1419.70,544.30 L1392.60,544.50 L1346.00,544.80 L1297.00,545.20 L1248.00,545.70 L1198.60,547.30 L1150.00,548.00 L1053.00,550.80 L1004.00,550.80 Z" fill="#d3d3d3" fill-opacity="0.75"/>
<path d="M1004.00,550.80 L1053.00,550.80 L1150.00,548.00 L1198.60,547.30 L1248.00,545.70 L1297.00,545.20 L1346.00,544.80 L1392.60,544.50 L1419.70,544.30 L1419.70,560.00 L1392.60,560.60 L1346.00,561.20 L1297.00,560.70 L1248.00,560.70 L1198.60,562.30 L1150.00,563.00 L1053.00,564.60 L1004.00,564.60 Z" fill="#5397f0" fill-opacity="0.75"/>
<path d="M1004.00,564.60 L1053.00,564.60 L1150.00,563.00 L1198.60,562.30 L1248.00,560.70 L1297.00,560.70 L1346.00,561.20 L1392.60,560.60 L1419.70,560.00 L1419.70,638.10 L1392.60,638.10 L1346.00,638.10 L1297.00,638.10 L1248.00,638.10 L1198.60,638.10 L1150.00,638.10 L1053.00,638.10 L1004.00,638.10 Z" fill="#6ac855" fill-opacity="0.75"/>
<path d="M1004.00,435.70 L1053.00,433.90 L1150.00,432.20 L1198.60,431.50 L1248.00,431.10 L1297.00,430.60 L1346.00,430.40 L1392.60,429.70 L1419.70,429.20" fill="none" stroke="#d2d2d2" stroke-width="2"/>
<path d="M1004.00,550.80 L1053.00,550.80 L1150.00,548.00 L1198.60,547.30 L1248.00,545.70 L1297.00,545.20 L1346.00,544.80 L1392.60,544.50 L1419.70,544.30" fill="none" stroke="#3d8ff0" stroke-width="2"/>
<path d="M1004.00,564.60 L1053.00,564.60 L1150.00,563.00 L1198.60,562.30 L1248.00,560.70 L1297.00,560.70 L1346.00,561.20 L1392.60,560.60 L1419.70,560.00" fill="none" stroke="#6cc955" stroke-width="2"/>
<text x="1003.9" y="657.9" font-size="12.2" font-weight="normal" fill="#666a70" text-anchor="middle" >22.</text>
<text x="1003.9" y="671.6" font-size="12.2" font-weight="normal" fill="#666a70" text-anchor="middle" >Dec</text>
<text x="1052.4" y="657.9" font-size="12.2" font-weight="normal" fill="#666a70" text-anchor="middle" >24.</text>
<text x="1052.4" y="671.6" font-size="12.2" font-weight="normal" fill="#666a70" text-anchor="middle" >Dec</text>
<text x="1101.3" y="657.9" font-size="12.2" font-weight="normal" fill="#666a70" text-anchor="middle" >26.</text>
<text x="1101.3" y="671.6" font-size="12.2" font-weight="normal" fill="#666a70" text-anchor="middle" >Dec</text>
<text x="1150.1" y="657.9" font-size="12.2" font-weight="normal" fill="#666a70" text-anchor="middle" >28.</text>
<text x="1150.1" y="671.6" font-size="12.2" font-weight="normal" fill="#666a70" text-anchor="middle" >Dec</text>
<text x="1199.3" y="657.9" font-size="12.2" font-weight="normal" fill="#666a70" text-anchor="middle" >30.</text>
<text x="1199.3" y="671.6" font-size="12.2" font-weight="normal" fill="#666a70" text-anchor="middle" >Dec</text>
<text x="1247.2" y="657.9" font-size="12.2" font-weight="normal" fill="#666a70" text-anchor="middle" >1. Jan</text>
<text x="1296.4" y="657.9" font-size="12.2" font-weight="normal" fill="#666a70" text-anchor="middle" >3. Jan</text>
<text x="1345.2" y="657.9" font-size="12.2" font-weight="normal" fill="#666a70" text-anchor="middle" >5. Jan</text>
<text x="1394.1" y="657.9" font-size="12.2" font-weight="normal" fill="#666a70" text-anchor="middle" >7. Jan</text>
<text x="1433.0" y="657.9" font-size="12.2" font-weight="normal" fill="#666a70" text-anchor="middle" >9....</text>
<text transform="translate(950.8,525.3) rotate(-90)" font-size="12.5" fill="#666a70" text-anchor="middle" letter-spacing="0.5">Tasks</text>
<rect x="986" y="912.5" width="458" height="1" fill="#ececec"/>
<text x="980.5" y="918.8" font-size="12.2" font-weight="normal" fill="#666a70" text-anchor="end" >60</text>
<rect x="986" y="887.3" width="458" height="1" fill="#ececec"/>
<text x="980.5" y="893.6" font-size="12.2" font-weight="normal" fill="#666a70" text-anchor="end" >80</text>
<rect x="986" y="867.7" width="458" height="1" fill="#ececec"/>
<text x="980.5" y="874.0" font-size="12.2" font-weight="normal" fill="#666a70" text-anchor="end" >100</text>
<rect x="986" y="806.9" width="458" height="1" fill="#ececec"/>
<text x="980.5" y="813.2" font-size="12.2" font-weight="normal" fill="#666a70" text-anchor="end" >200</text>
<rect x="986" y="746.1" width="458" height="1" fill="#ececec"/>
<text x="980.5" y="752.4" font-size="12.2" font-weight="normal" fill="#666a70" text-anchor="end" >400</text>
<rect x="994.9" y="746" width="1" height="180" fill="#ececec"/>
<rect x="1039.8" y="746" width="1" height="180" fill="#ececec"/>
<rect x="1084.7" y="746" width="1" height="180" fill="#ececec"/>
<rect x="1129.6" y="746" width="1" height="180" fill="#ececec"/>
<rect x="1174.5" y="746" width="1" height="180" fill="#ececec"/>
<rect x="1219.3" y="746" width="1" height="180" fill="#ececec"/>
<rect x="1264.2" y="746" width="1" height="180" fill="#ececec"/>
<rect x="1309.1" y="746" width="1" height="180" fill="#ececec"/>
<rect x="1354.0" y="746" width="1" height="180" fill="#ececec"/>
<rect x="1398.9" y="746" width="1" height="180" fill="#ececec"/>
<rect x="1443.8" y="746" width="1" height="180" fill="#ececec"/>
<rect x="1007.4" y="813.8" width="20.7" height="116.2" fill="#7cb2ea"/>
<rect x="1052.3" y="822.7" width="20.7" height="107.3" fill="#7cb2ea"/>
<rect x="1097.2" y="809.6" width="20.7" height="120.4" fill="#7cb2ea"/>
<rect x="1142.1" y="798.6" width="20.7" height="131.4" fill="#7cb2ea"/>
<rect x="1187.0" y="788.5" width="20.7" height="141.5" fill="#7cb2ea"/>
<rect x="1231.9" y="783.4" width="20.7" height="146.6" fill="#7cb2ea"/>
<rect x="1276.8" y="789.6" width="20.7" height="140.4" fill="#7cb2ea"/>
<rect x="1321.7" y="833.2" width="20.7" height="96.8" fill="#7cb2ea"/>
<rect x="1366.6" y="859.8" width="20.7" height="70.2" fill="#7cb2ea"/>
<rect x="1411.5" y="919.1" width="20.7" height="10.9" fill="#7cb2ea"/>
<line x1="996" y1="813" x2="1444" y2="813" stroke="#f00000" stroke-width="2" stroke-dasharray="16,6"/>
<text transform="translate(950.8,846.6) rotate(-90)" font-size="12.5" fill="#666a70" text-anchor="middle" letter-spacing="0.5">Tasks</text>
<text x="1443.7" y="733.3" font-size="12.6" fill="#2a2e34" text-anchor="end" letter-spacing="0.25">velocity: <tspan font-weight="bold">185.4</tspan></text>
</svg>
<div class="a" style="left:250px;top:908px;width:1612px;height:14px;background:linear-gradient(to bottom,rgba(242,243,247,0) 0%,rgba(242,243,247,1) 76%)"></div>
</div>
</body></html>
